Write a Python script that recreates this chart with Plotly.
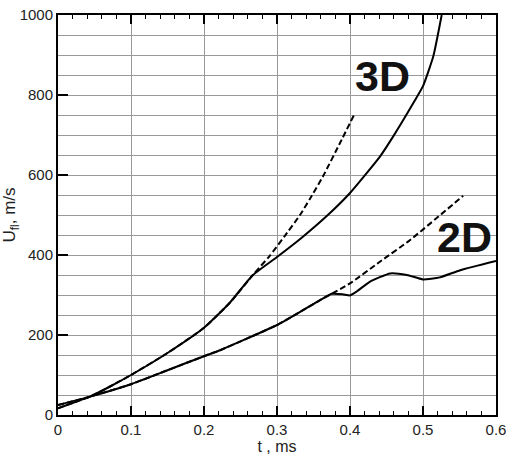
import plotly.graph_objects as go

# 3D solid
t3_solid = [0.0, 0.02, 0.044, 0.07, 0.1, 0.15, 0.2, 0.235, 0.267, 0.3, 0.333, 0.3726, 0.4, 0.441, 0.459, 0.489, 0.5, 0.514, 0.5256]
u3_solid = [17, 30, 46, 70, 100, 155, 218, 280, 350, 395, 442, 505, 555, 646, 696, 787, 822, 896, 1000]

# 3D dashed (fit)
t3_dash = [0.0, 0.02, 0.044, 0.07, 0.1, 0.15, 0.2, 0.235, 0.267, 0.29, 0.31, 0.3315, 0.345, 0.3634, 0.3863, 0.4055]
u3_dash = [17, 30, 46, 70, 100, 155, 218, 280, 350, 398, 446, 500, 540, 598, 680, 750]

# 2D solid
t2_solid = [0.0, 0.044, 0.1, 0.15, 0.2, 0.222, 0.26, 0.3, 0.33, 0.359, 0.375, 0.39, 0.4, 0.41, 0.427, 0.455, 0.478, 0.5, 0.523, 0.551, 0.6]
u2_solid = [25, 46, 77, 112, 147, 162, 192, 225, 256, 287, 303, 302, 299, 310, 333, 354, 350, 339, 344, 362, 385]

# 2D dashed (fit)
t2_dash = [0.0, 0.044, 0.1, 0.15, 0.2, 0.222, 0.26, 0.3, 0.33, 0.359, 0.4, 0.44, 0.482, 0.555]
u2_dash = [25, 46, 77, 112, 147, 162, 192, 225, 256, 287, 329, 382, 437, 548]

x_ticks = [0, 0.1, 0.2, 0.3, 0.4, 0.5, 0.6]
x_tick_labels = ["0", "0.1", "0.2", "0.3", "0.4", "0.5", "0.6"]
y_ticks = [0, 200, 400, 600, 800, 1000]
y_tick_labels = ["0", "200", "400", "600", "800", "1000"]

labels = ["3D", "2D"]
label_pos_t = [0.444, 0.5575]
label_pos_u = [847, 445]

fig = go.Figure()
line_solid = dict(color="black", width=2, shape="spline", smoothing=0.5)
line_dash = dict(color="black", width=2, dash="6px,3px", shape="spline", smoothing=0.5)
fig.add_trace(go.Scatter(x=t3_dash, y=u3_dash, mode="lines", line=line_dash, showlegend=False))
fig.add_trace(go.Scatter(x=t2_dash, y=u2_dash, mode="lines", line=line_dash, showlegend=False))
fig.add_trace(go.Scatter(x=t3_solid, y=u3_solid, mode="lines", line=line_solid, showlegend=False))
fig.add_trace(go.Scatter(x=t2_solid, y=u2_solid, mode="lines", line=line_solid, showlegend=False))

for lab, tx, uy in zip(labels, label_pos_t, label_pos_u):
    fig.add_annotation(x=tx, y=uy, text=f"<b>{lab}</b>", showarrow=False,
                       font=dict(family="Liberation Sans, Arial", size=43, color="#111"))

fig.update_layout(
    width=506, height=455,
    margin=dict(l=58, r=10, t=15, b=40, autoexpand=False),
    paper_bgcolor="white", plot_bgcolor="white",
    font=dict(family="Liberation Sans, Arial", size=15, color="#222"),
)
fig.update_xaxes(
    range=[0, 0.6], tickvals=x_ticks, ticktext=x_tick_labels,
    showgrid=True, gridcolor="#999", gridwidth=1,
    ticks="inside", ticklen=9, tickwidth=2, tickcolor="black",
    minor=dict(dtick=0.02, ticks="inside", ticklen=4, tickwidth=1, tickcolor="black", showgrid=False),
    showline=True, linecolor="black", linewidth=2, mirror="allticks",
    zeroline=False, automargin=False, ticklabelstandoff=0, ticklabeloverflow="allow",
    title=dict(text="t , ms", font=dict(size=16), standoff=0),
)
fig.update_yaxes(
    range=[0, 1000], tickvals=y_ticks, ticktext=y_tick_labels,
    showgrid=True, gridcolor="#999", gridwidth=1,
    ticks="inside", ticklen=10, tickwidth=2, tickcolor="black",
    minor=dict(dtick=50, showgrid=True, gridcolor="#999", gridwidth=1, ticks=""),
    showline=True, linecolor="black", linewidth=2, mirror=True,
    zeroline=False, automargin=False, ticklabeloverflow="allow",
    title=dict(text="U<sub>fl</sub>, m/s", font=dict(size=17), standoff=0),
)
fig.write_html("out.html")
